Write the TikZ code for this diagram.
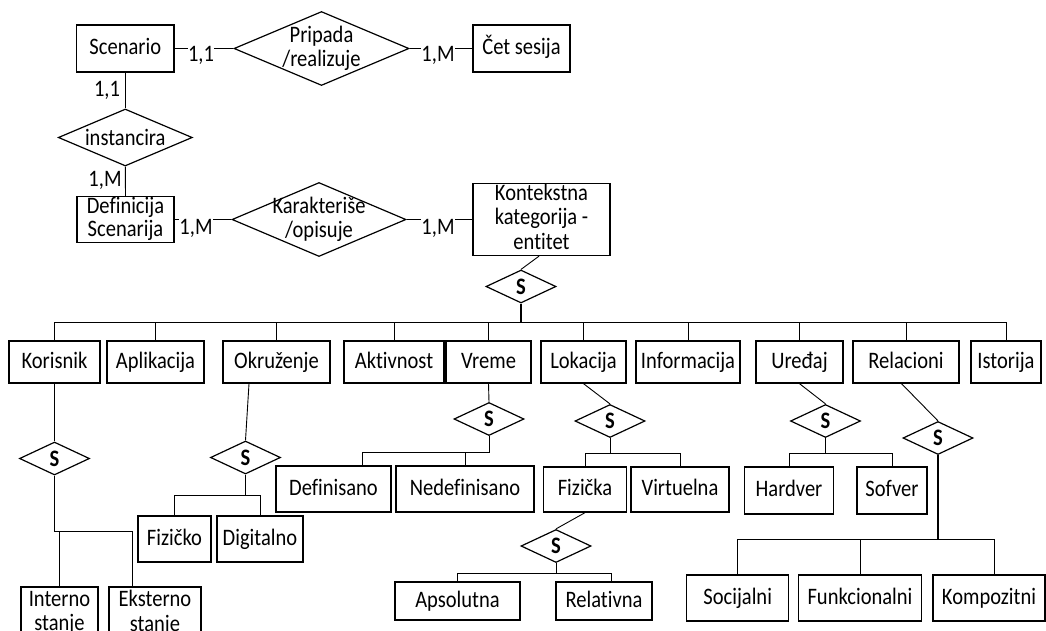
\documentclass[tikz,border=0pt]{standalone}
\usepackage{fontspec}
\setmainfont{Carlito}[FakeStretch=0.87, Ligatures=NoCommon]
\usetikzlibrary{shapes.geometric}
\tikzset{
  every node/.style={font=\fontsize{23.6}{24.5}\selectfont},
  ent/.style={draw, line width=1.3pt, inner sep=0pt, align=center, minimum height=42pt, text depth=5.5pt},
  ent1/.style={ent, text height=17.5pt},
  rel/.style={draw, diamond, line width=1.2pt, inner sep=0pt},
  spec/.style={rel, minimum width=70pt, minimum height=33pt, aspect=2.1, font=\fontsize{23.6}{24.5}\selectfont\bfseries},
  card/.style={fill=white, inner sep=0.5pt},
  ln/.style={line width=0.9pt},
  thk/.style={line width=2pt}
}
\begin{document}
\begin{tikzpicture}[x=1pt, y=-1pt]
\useasboundingbox (0,0) rectangle (1046,630);

% ---------- upper part: scenario relationships ----------
\node[ent1, minimum width=97.5pt, minimum height=47pt] (scen) at (125.3,48.5) {Scenario};
\node[rel, minimum width=175pt, minimum height=74pt,
      label={[align=center]center:Pripada\\/realizuje}] (prip) at (321.5,48.5) {};
\node[ent1, minimum width=97pt, minimum height=47pt] (cet) at (521.5,48.5) {Čet sesija};
\node[rel, minimum width=134pt, minimum height=57pt, aspect=2.35] (inst) at (125.3,137.5) {instancira};
\node[ent, minimum width=97pt, minimum height=46pt, font=\fontsize{23.6}{23}\selectfont] (defs) at (125.5,219.5) {Definicija\\Scenarija};
\node[rel, minimum width=174pt, minimum height=74pt,
      label={[align=center]center:Karakteriše\\/opisuje}] (kar) at (319,219.5) {};
\node[ent, minimum width=137pt, minimum height=72pt] (kont) at (541.5,219.5) {Kontekstna\\kategorija -\\entitet};

\draw[ln] (scen.east) -- (prip.west);
\draw[ln] (prip.east) -- (cet.west);
\draw[ln] (scen.south) -- (inst.north);
\draw[ln] (inst.south) -- (defs.north);
\draw[ln] (defs.east) -- (kar.west);
\draw[ln] (kar.east) -- (kont.west);

\node[card] (c1) at (201,55) {1,1};
\node[card] (c2) at (438,55) {1,M};
\node[card] (c3) at (107,90) {1,1};
\node[card] (c4) at (105,180) {1,M};
\node[card] (c5) at (196,228) {1,M};
\node[card] (c6) at (438,228) {1,M};

% ---------- specialisation of the context category ----------
\node[spec] (s0) at (521,286.5) {S};
\coordinate (kontd) at ([xshift=-2.5pt]kont.south);
\draw[ln] (kontd) -- (s0.north);

\node[ent1, minimum width=91pt]  (kor) at (54.5,362)  {Korisnik};
\node[ent1, minimum width=97pt]  (apl) at (155.5,362) {Aplikacija};
\node[ent1, minimum width=107pt] (okr) at (276.5,362) {Okruženje};
\node[ent1, minimum width=100pt] (akt) at (394,362)   {Aktivnost};
\node[ent1, minimum width=85pt]  (vre) at (488.5,362) {Vreme};
\node[ent1, minimum width=85pt]  (lok) at (583.5,362) {Lokacija};
\node[ent1, minimum width=104pt] (inf) at (688,362)   {Informacija};
\node[ent1, minimum width=87pt]  (ure) at (799.5,362) {Uređaj};
\node[ent1, minimum width=106pt] (rel) at (906,362)   {Relacioni};
\node[ent1, minimum width=70pt]  (ist) at (1006,362)  {Istorija};

\coordinate (bus) at (0,322);
\draw[thk] (s0.south) -- (s0.south |- bus);
\draw[ln] (kor.north |- bus) -- (ist.north |- bus);
\foreach \n in {kor,apl,okr,akt,vre,lok,inf,ure,rel,ist}
  \draw[ln] (\n.north) -- (\n.north |- bus);

% ---------- Korisnik ----------
\node[spec] (s1) at (54.5,458.5) {S};
\draw[ln] (kor.south) -- (s1.north);
\node[ent, minimum width=77pt, minimum height=53pt] (int) at (59.5,613.5) {Interno\\stanje};
\node[ent, minimum width=92pt, minimum height=53pt] (eks) at (155,613.5) {Eksterno\\stanje};
\coordinate (j1) at (0,531);
\coordinate (eksd) at ([xshift=-23pt]eks.north);
\draw[ln] (s1.south) -- (s1.south |- j1) -- (eksd |- j1) -- (eksd);
\draw[ln] (int.north) -- (int.north |- j1);

% ---------- Okruženje ----------
\node[spec] (s2) at (245.5,457.5) {S};
\coordinate (okrd) at ([xshift=-27.5pt]okr.south);
\draw[ln] (okrd) -- (s2.north);
\node[ent1, minimum width=73pt, minimum height=46pt] (fzo) at (174.5,539) {Fizičko};
\node[ent1, minimum width=86pt, minimum height=46pt] (dig) at (260,539) {Digitalno};
\coordinate (j2) at (0,495);
\draw[ln] (s2.south) -- (s2.south |- j2);
\draw[ln] (fzo.north) |- (dig.north |- j2) -- (dig.north);

% ---------- Vreme ----------
\node[spec] (s3) at (489,419) {S};
\draw[ln] (vre.south) -- (s3.north);
\node[ent1, minimum width=115pt, minimum height=46pt] (dfn) at (333.5,489) {Definisano};
\node[ent1, minimum width=138pt, minimum height=46pt] (ndf) at (465,489) {Nedefinisano};
\coordinate (j3) at (0,452);
\coordinate (dfnd) at ([xshift=28.5pt]dfn.north);
\draw[ln] (s3.south) -- (s3.south |- j3) -- (dfnd |- j3) -- (dfnd);
\draw[ln] (ndf.north) -- (ndf.north |- j3);

% ---------- Lokacija ----------
\node[spec] (s4) at (610,421) {S};
\draw[ln] (lok.south) -- (s4.north);
\node[ent1, minimum width=82.5pt, minimum height=45pt] (fzk) at (585,489.5) {Fizička};
\node[ent1, minimum width=98pt, minimum height=45pt] (vir) at (680,489.5) {Virtuelna};
\coordinate (j4) at (0,453);
\draw[ln] (s4.south) -- (s4.south |- j4);
\draw[ln] (fzk.north) |- (vir.north |- j4) -- (vir.north);

% ---------- Fizička ----------
\node[spec] (s5) at (556,546) {S};
\draw[ln] (fzk.south) -- (s5.north);
\node[ent1, minimum width=125pt, minimum height=38pt] (aps) at (457.5,601) {Apsolutna};
\node[ent1, minimum width=96pt, minimum height=38pt] (rlt) at (604,601) {Relativna};
\coordinate (j5) at (0,573);
\coordinate (rltd) at ([xshift=7pt]rlt.north);
\draw[ln] (s5.south) -- (s5.south |- j5);
\draw[ln] (aps.north) |- (rltd |- j5) -- (rltd);

% ---------- Uređaj ----------
\node[spec] (s6) at (825.5,421) {S};
\draw[ln] (ure.south) -- (s6.north);
\node[ent1, minimum width=89pt, minimum height=47pt] (hw) at (789,490.5) {Hardver};
\node[ent1, minimum width=70pt, minimum height=47pt] (sw) at (892,490.5) {Sofver};
\coordinate (j6) at (0,453);
\draw[ln] (s6.south) -- (s6.south |- j6);
\draw[ln] (hw.north) |- (sw.north |- j6) -- (sw.north);

% ---------- Relacioni ----------
\node[spec] (s7) at (938,438) {S};
\coordinate (reld) at ([xshift=-4.5pt]rel.south);
\draw[ln] (reld) -- (s7.north);
\node[ent1, minimum width=102pt, minimum height=46pt] (soc) at (737.7,598) {Socijalni};
\node[ent1, minimum width=123.6pt, minimum height=46pt] (fun) at (860,598) {Funkcionalni};
\node[ent1, minimum width=112pt, minimum height=46pt] (kom) at (989,598) {Kompozitni};
\coordinate (j7) at (0,539);
\coordinate (komd) at ([xshift=5pt]kom.north);
\draw[thk] (s7.south) -- (s7.south |- j7);
\draw[ln] (soc.north) |- (komd |- j7) -- (komd);
\draw[ln] (fun.north) -- (fun.north |- j7);
\end{tikzpicture}
\end{document}
